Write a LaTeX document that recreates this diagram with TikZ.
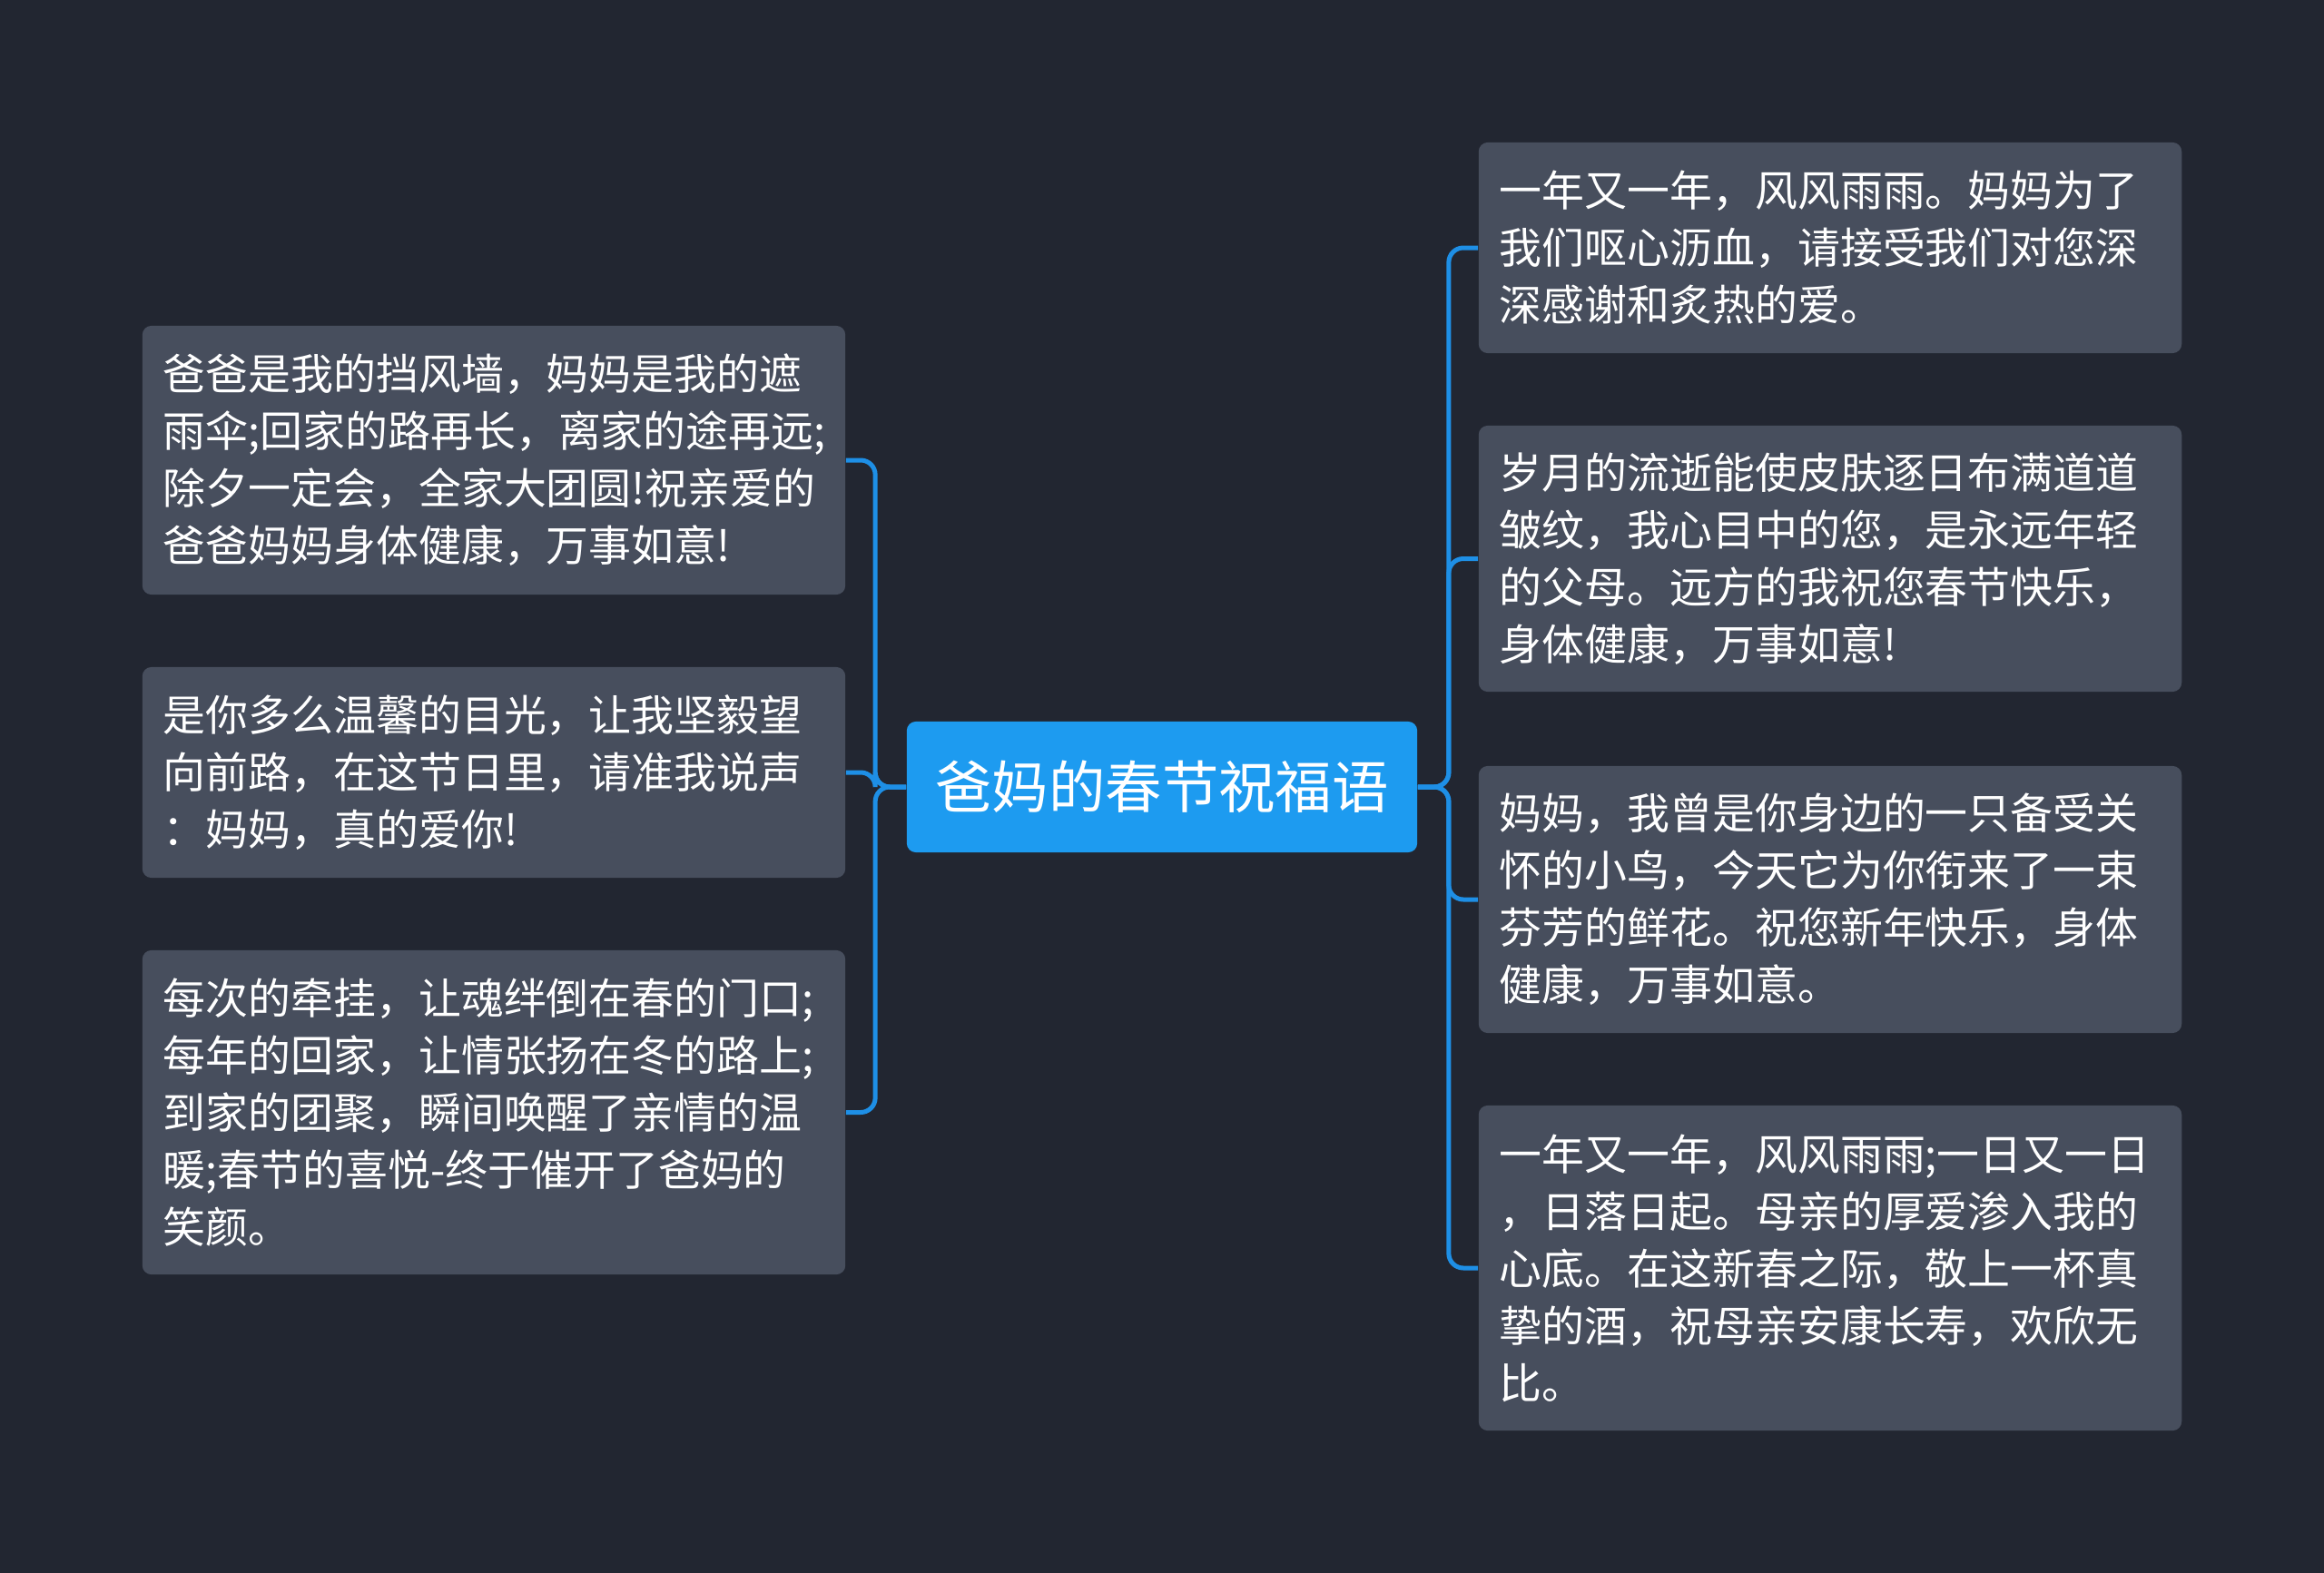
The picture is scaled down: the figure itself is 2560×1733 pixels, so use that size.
\documentclass[tikz,border=0pt]{standalone}
\usepackage{fontspec}
\setmainfont{Noto Sans CJK SC}
\definecolor{pagebg}{HTML}{222631}
\definecolor{leafgray}{HTML}{474E5D}
\definecolor{rootblue}{HTML}{1D9BF0}
\definecolor{linkblue}{HTML}{1E8FE6}

\begin{document}
\begin{tikzpicture}[x=0.01cm,y=-0.01cm,
    leafbox/.style={rectangle, rounded corners=0.1cm, fill=leafgray, text=white,
        text width=7.28cm, inner xsep=0.23cm, inner ysep=0pt, align=left,
        font=\fontsize{13.34pt}{17.9pt}\selectfont},
    rootbox/.style={rectangle, rounded corners=0.1cm, fill=rootblue, text=white,
        minimum width=5.62cm, minimum height=1.44cm, inner sep=0pt,
        font=\fontsize{17.75pt}{21pt}\selectfont},
    link/.style={draw=linkblue, line width=0.05cm, rounded corners=0.16cm}]
    \fill[pagebg] (0,0) rectangle (2560,1733);
    \useasboundingbox (0,0) rectangle (2560,1733);

    \node[rootbox] (root) at (1280,867) {爸妈的春节祝福语};

    % left side
    \node[leafbox, minimum height=2.96cm] (l1) at (544,507)
        {爸爸是我的挡风墙，妈妈是我的遮\\雨伞;回家的路再长，离家的途再远;\\除夕一定会，全家大团圆!祝亲爱的\\爸爸妈妈身体健康，万事如意!};
    \node[leafbox, minimum height=2.32cm] (l2) at (544,851)
        {是你多么温馨的目光，让我坚毅望\\向前路，在这节日里，请准我说声\\：妈妈，真的爱你!};
    \node[leafbox, minimum height=3.57cm] (l3) at (544,1225.5)
        {每次的牵挂，让魂绊倒在春的门口;\\每年的回家，让情张扬在冬的路上;\\到家的团聚，瞬间唤醒了亲情的温\\暖;春节的喜悦-终于催开了爸妈的\\笑颜。};

    % right side
    \node[leafbox, minimum height=2.32cm] (r1) at (2016,273)
        {一年又一年，风风雨雨。妈妈为了\\我们呕心沥血，请接受我们对您深\\深感谢和炙热的爱。};
    \node[leafbox, minimum height=2.93cm] (r2) at (2016,615.5)
        {岁月的流逝能使皮肤逐日布满道道\\皱纹，我心目中的您，是永远年轻\\的父母。远方的我祝您春节快乐，\\身体健康，万事如意!};
    \node[leafbox, minimum height=2.94cm] (r3) at (2016,991)
        {妈妈，我曾是你身边的一只备受关\\怀的小鸟，今天它为你衔来了一束\\芬芳的鲜花。祝您新年快乐，身体\\健康，万事如意。};
    \node[leafbox, minimum height=3.58cm] (r4) at (2016,1397)
        {一年又一年，风风雨雨;一日又一日\\，日落日起。母亲的厚爱渗入我的\\心底。在这新春之际，敬上一杯真\\挚的酒，祝母亲安康长寿，欢欣无\\比。};

    \foreach \leaf in {l1,l2,l3}
        \draw[link] (root.west) -- ++(-34,0) |- (\leaf.east);
    \foreach \leaf in {r1,r2,r3,r4}
        \draw[link] (root.east) -- ++(34,0) |- (\leaf.west);
\end{tikzpicture}
\end{document}
